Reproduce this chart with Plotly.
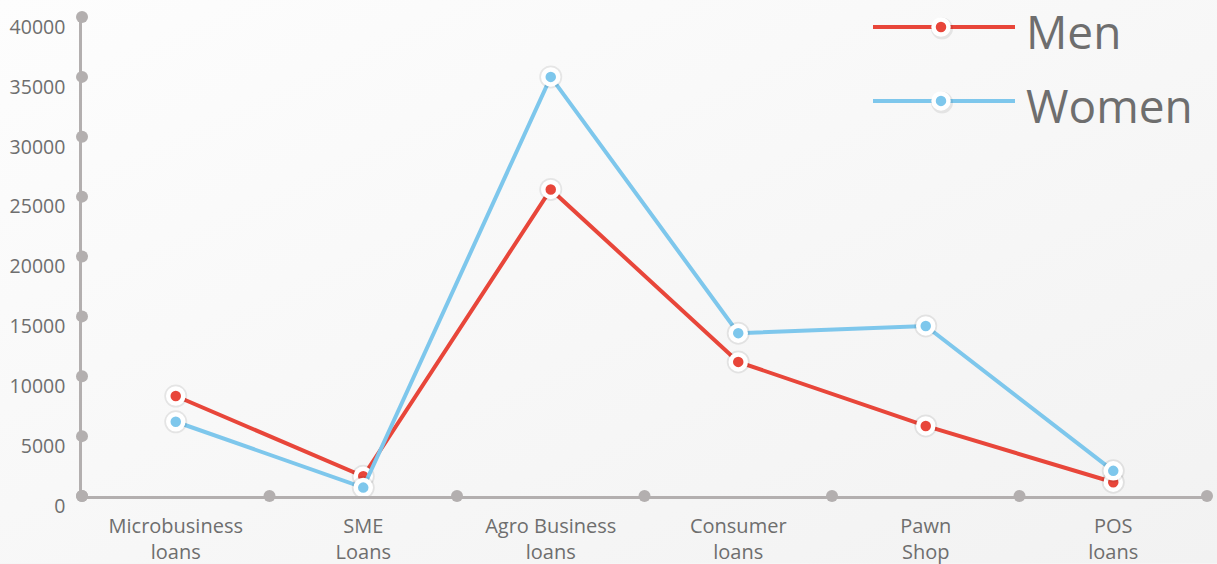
import base64
import plotly.graph_objects as go

categories = ["Microbusiness<br>loans", "SME<br>Loans", "Agro Business<br>loans",
              "Consumer<br>loans", "Pawn<br>Shop", "POS<br>loans"]
men = [8350, 1650, 25600, 11200, 5850, 1150]
women = [6200, 700, 35000, 13600, 14200, 2100]
y_ticks = [0, 5000, 10000, 15000, 20000, 25000, 30000, 35000, 40000]

RED = "#E8463A"
BLUE = "#7EC7EC"
AXIS = "#B3AFAF"
TEXT = "#6E6E6E"
BG = "#F6F6F6"

idx = list(range(len(categories)))
bounds = [i - 0.5 for i in range(len(categories) + 1)]

fig = go.Figure()

# axis decoration dots
fig.add_trace(go.Scatter(x=[-0.5] * len(y_ticks), y=y_ticks, mode="markers",
                         marker=dict(size=12, color=AXIS), cliponaxis=False,
                         hoverinfo="skip", showlegend=False))
fig.add_trace(go.Scatter(x=bounds, y=[0] * len(bounds), mode="markers",
                         marker=dict(size=12, color=AXIS), cliponaxis=False,
                         hoverinfo="skip", showlegend=False))

for name, vals, col in [("Men", men, RED), ("Women", women, BLUE)]:
    fig.add_trace(go.Scatter(x=idx, y=vals, mode="lines", line=dict(color=col, width=4),
                             cliponaxis=False, hoverinfo="skip", showlegend=False))
    fig.add_trace(go.Scatter(x=idx, y=vals, mode="markers",
                             marker=dict(size=23, color="rgba(0,0,0,0.08)"),
                             cliponaxis=False, hoverinfo="skip", showlegend=False))
    fig.add_trace(go.Scatter(x=idx, y=vals, mode="markers", name=name,
                             marker=dict(size=15, color=col, line=dict(color="white", width=4.5)),
                             cliponaxis=False, showlegend=False))

# custom legend
L, R_, T, B = 82, 1207, 17, 496.5
def px(x):
    return (x - L) / (R_ - L)
def py(y):
    return (B - y) / (B - T)

shapes = []
annotations = []
for name, col, ypix in [("Men", RED, 27), ("Women", BLUE, 101)]:
    shapes.append(dict(type="line", xref="paper", yref="paper",
                       x0=px(873), x1=px(1015), y0=py(ypix), y1=py(ypix),
                       line=dict(color=col, width=4)))
    shapes.append(dict(type="circle", xref="paper", yref="paper",
                       xsizemode="pixel", ysizemode="pixel",
                       xanchor=px(942), yanchor=py(ypix + 1.5),
                       x0=-11, x1=11, y0=-11, y1=11,
                       fillcolor="rgba(0,0,0,0.08)", line=dict(width=0)))
    shapes.append(dict(type="circle", xref="paper", yref="paper",
                       xsizemode="pixel", ysizemode="pixel",
                       xanchor=px(941), yanchor=py(ypix),
                       x0=-7.5, x1=7.5, y0=-7.5, y1=7.5,
                       fillcolor=col, line=dict(color="white", width=4.5)))
    annotations.append(dict(text=name, xref="paper", yref="paper",
                            x=px(1024), y=py(ypix + 4), xanchor="left", yanchor="middle",
                            showarrow=False,
                            font=dict(family="Open Sans", size=46, color=TEXT)))

# soft background gradient
svg = ('<svg xmlns="http://www.w3.org/2000/svg" width="1217" height="564">'
       '<defs><linearGradient id="g" x1="0" y1="0" x2="1" y2="1">'
       '<stop offset="0" stop-color="#fdfdfd"/><stop offset="1" stop-color="#f2f2f2"/>'
       '</linearGradient></defs><rect width="1217" height="564" fill="url(#g)"/></svg>')
bg_uri = "data:image/svg+xml;base64," + base64.b64encode(svg.encode()).decode()

fig.update_layout(
    width=1217, height=564,
    margin=dict(l=L, r=1217 - R_, t=T, b=564 - B),
    paper_bgcolor=BG, plot_bgcolor="rgba(0,0,0,0)",
    images=[dict(source=bg_uri, xref="paper", yref="paper",
                 x=-L / (R_ - L), y=1 + T / (B - T),
                 sizex=1217 / (R_ - L), sizey=564 / (B - T),
                 xanchor="left", yanchor="top", sizing="stretch", layer="below")],
    font=dict(family="Open Sans", color=TEXT),
    shapes=shapes, annotations=annotations,
    showlegend=False,
    xaxis=dict(range=[-0.5, 5.5], tickvals=idx, ticktext=categories,
               showgrid=False, zeroline=False, showline=True, linecolor=AXIS, linewidth=2.5,
               ticks="", tickfont=dict(size=20, color=TEXT), ticklabelstandoff=10,
               automargin=False, fixedrange=True),
    yaxis=dict(range=[0, 40000], tickvals=y_ticks, ticktext=[str(v) for v in y_ticks],
               showgrid=False, zeroline=False, showline=True, linecolor=AXIS, linewidth=2.5,
               ticks="", tickfont=dict(size=19.5, color=TEXT), ticklabelstandoff=10,
               ticklabelshift=10, automargin=False, fixedrange=True),
)

fig.write_html("out.html")
